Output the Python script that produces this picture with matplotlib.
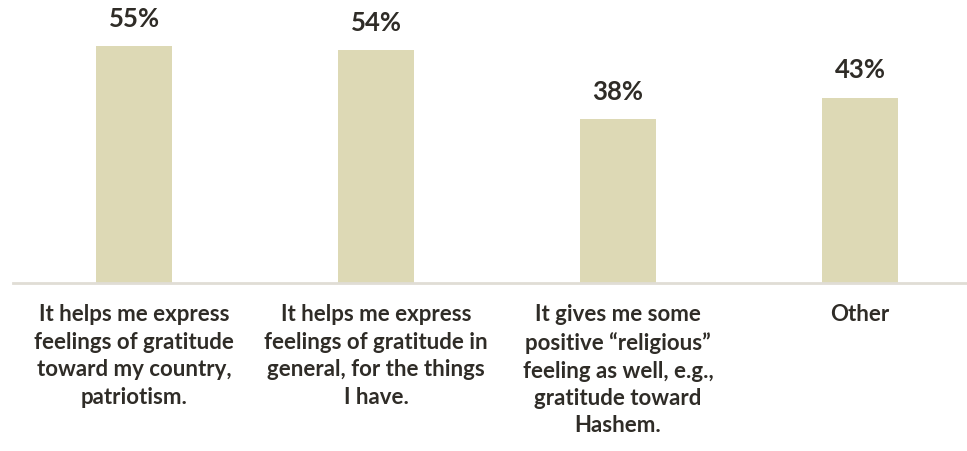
import matplotlib
matplotlib.use("Agg")
import matplotlib.pyplot as plt
from matplotlib.transforms import blended_transform_factory

categories = [
    "It helps me express\nfeelings of gratitude\ntoward my country,\npatriotism.",
    "It helps me express\nfeelings of gratitude in\ngeneral, for the things\nI have.",
    "It gives me some\npositive \u201creligious\u201d\nfeeling as well, e.g.,\ngratitude toward\nHashem.",
    "Other",
]
values = [55, 54, 38, 43]
value_labels = ["55%", "54%", "38%", "43%"]

W, H = 967, 451
fig = plt.figure(figsize=(W / 100, H / 100), dpi=100)
left_px, right_px = 13, 981
base_px, top_px = 283, 46
ax = fig.add_axes([left_px / W, 1 - base_px / H, (right_px - left_px) / W, (base_px - top_px) / H * 1.0])
ax.set_xlim(-0.5, 3.5)
ax.set_ylim(0, 55)

text_color = "#2F2C27"
font = ["Lato", "DejaVu Sans"]

x = list(range(len(categories)))
ax.bar(x, values, width=0.314, color="#DDD9B5", zorder=2)

for xi, v, lab in zip(x, values, value_labels):
    ax.annotate(lab, (xi, v), xytext=(0, 11), textcoords="offset points",
                ha="center", va="bottom", fontsize=18.5, fontweight="bold",
                color=text_color, family=font)

trans = blended_transform_factory(ax.transData, ax.transAxes)
for xi, cat in zip(x, categories):
    ax.text(xi, -0.09, cat, transform=trans, ha="center", va="top",
            fontsize=16, fontweight="bold", color=text_color, family=font,
            linespacing=1.38)

for s in ["top", "right", "left"]:
    ax.spines[s].set_visible(False)
ax.spines["bottom"].set_color("#E0DDD5")
ax.spines["bottom"].set_linewidth(2)
ax.set_xticks([])
ax.set_yticks([])

fig.savefig("out.png", dpi=100)
